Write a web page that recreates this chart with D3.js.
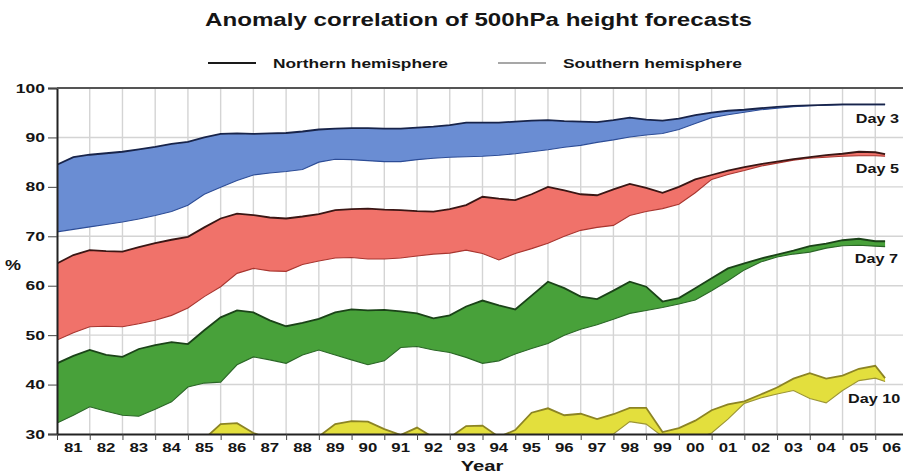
<!DOCTYPE html>
<html>
<head>
<meta charset="utf-8">
<script src="https://cdn.jsdelivr.net/npm/d3@7"></script>
<style>
  body { margin: 0; background: #fff; }
  text { font-family: "Liberation Sans", Arial, sans-serif; font-weight: bold; fill: #151515; }
</style>
</head>
<body>
<svg id="chart"></svg>
<script>
// sample times (every half year)
let years = [
  1981,1981.5,1982,1982.5,1983,1983.5,1984,1984.5,1985,1985.5,
  1986,1986.5,1987,1987.5,1988,1988.5,1989,1989.5,1990,1990.5,
  1991,1991.5,1992,1992.5,1993,1993.5,1994,1994.5,1995,1995.5,
  1996,1996.5,1997,1997.5,1998,1998.5,1999,1999.5,2000,2000.5,
  2001,2001.5,2002,2002.5,2003,2003.5,2004,2004.5,2005,2005.5,
  2006,2006.3
];

// Day 3
let day3N = [
  84.5,86.0,86.5,86.8,87.1,87.6,88.1,88.7,89.1,90.0,
  90.7,90.8,90.7,90.8,90.9,91.2,91.6,91.8,91.9,91.9,
  91.8,91.8,92.0,92.2,92.5,93.0,93.0,93.0,93.2,93.4,
  93.5,93.3,93.2,93.1,93.5,94.0,93.6,93.4,93.8,94.5,
  95.0,95.4,95.6,95.9,96.2,96.4,96.5,96.6,96.7,96.7,
  96.7,96.7
];
let day3S = [
  70.9,71.4,71.9,72.4,72.9,73.5,74.2,75.0,76.3,78.5,
  79.9,81.3,82.4,82.8,83.1,83.5,85.0,85.6,85.5,85.3,
  85.1,85.1,85.5,85.8,86.0,86.1,86.2,86.4,86.7,87.1,
  87.5,88.0,88.4,89.0,89.5,90.1,90.5,90.8,91.6,92.8,
  94.0,94.6,95.1,95.6,95.9,96.2,96.4,96.5,96.6,96.6,
  96.6,96.6
];

// Day 5
let day5N = [
  64.5,66.2,67.2,67.0,66.9,67.8,68.6,69.3,69.9,71.8,
  73.6,74.6,74.3,73.8,73.6,74.0,74.5,75.3,75.5,75.6,
  75.4,75.3,75.1,75.0,75.5,76.3,78.0,77.6,77.3,78.5,
  80.0,79.3,78.5,78.3,79.5,80.6,79.8,78.8,80.0,81.5,
  82.4,83.3,84.0,84.6,85.1,85.6,86.0,86.4,86.7,87.1,
  87.0,86.6
];
let day5S = [
  49.0,50.5,51.7,51.8,51.7,52.3,53.0,54.0,55.5,57.8,
  59.8,62.5,63.5,63.0,62.9,64.3,65.0,65.6,65.7,65.4,
  65.4,65.6,66.0,66.4,66.6,67.2,66.5,65.2,66.5,67.5,
  68.6,70.0,71.2,71.8,72.2,74.2,75.0,75.6,76.5,78.8,
  81.5,82.5,83.3,84.2,84.8,85.4,85.8,86.0,86.2,86.3,
  86.3,86.2
];

// Day 7
let day7N = [
  44.3,45.8,47.0,46.0,45.6,47.2,48.0,48.6,48.2,51.0,
  53.6,55.0,54.6,53.0,51.8,52.5,53.3,54.6,55.2,55.0,
  55.1,54.8,54.4,53.4,54.0,55.8,57.0,56.0,55.2,58.0,
  60.8,59.5,57.8,57.3,59.0,60.8,59.8,56.8,57.5,59.5,
  61.5,63.5,64.5,65.5,66.3,67.1,68.0,68.5,69.2,69.5,
  69.0,69.0
];
let day7S = [
  32.2,33.8,35.5,34.6,33.8,33.6,35.0,36.5,39.5,40.3,
  40.5,44.0,45.6,45.0,44.3,46.0,47.0,46.0,45.0,44.0,
  44.8,47.5,47.7,47.0,46.5,45.5,44.3,44.8,46.2,47.3,
  48.3,50.0,51.2,52.1,53.2,54.4,55.0,55.6,56.3,57.1,
  59.0,61.0,63.2,64.8,65.8,66.4,66.8,67.6,68.1,68.2,
  68.0,67.9
];

// Day 10 (values under 30 fall below the axis)
let day10N = [
  27.0,27.5,28.0,27.8,27.5,28.0,28.5,29.0,28.6,29.0,
  32.0,32.2,30.2,29.0,28.8,29.2,29.5,32.0,32.6,32.5,
  31.0,29.8,31.3,29.3,29.3,31.6,31.7,29.4,30.8,34.3,
  35.2,33.8,34.1,33.0,34.0,35.3,35.3,30.4,31.2,32.7,
  34.8,36.0,36.6,38.0,39.4,41.2,42.3,41.2,41.8,43.2,
  43.8,41.3
];
let day10S = [
  20.0,21.0,22.0,21.5,21.0,22.0,22.5,23.0,24.0,25.0,
  26.0,27.0,26.5,26.0,26.5,27.0,27.5,28.0,28.5,28.5,
  28.0,28.0,28.5,28.0,28.0,28.5,28.5,28.0,28.5,29.0,
  29.0,29.5,29.5,29.5,30.0,32.5,32.0,29.5,28.5,29.0,
  30.2,33.0,36.2,37.3,38.1,38.8,37.2,36.3,38.8,40.8,
  41.3,40.6
];

let yTicks = [30, 40, 50, 60, 70, 80, 90, 100];
let yearTicks = [1981,1982,1983,1984,1985,1986,1987,1988,1989,1990,1991,1992,1993,
  1994,1995,1996,1997,1998,1999,2000,2001,2002,2003,2004,2005,2006,2007];
let yearLabels = ['81','82','83','84','85','86','87','88','89','90','91','92','93',
  '94','95','96','97','98','99','00','01','02','03','04','05','06'];

let w = 903;
let h = 475;
let padLeft = 57, padTop = 88, plotBottom = 434, plotRight = 908;

let svg = d3.select('#chart').attr('width', w).attr('height', h);

let xScale = d3.scaleLinear().domain([1981, 2007]).range([padLeft, plotRight]);
let yScale = d3.scaleLinear().domain([30, 100]).range([plotBottom, padTop]);

// the original picture is stretched sideways, so text gets a horizontal scale
let label = (txt, x, y, size, anchor, stretch) => {
  return svg.append('text')
    .attr('transform', 'translate(' + x + ',' + y + ') scale(' + stretch + ',1)')
    .attr('text-anchor', anchor)
    .attr('font-size', size)
    .text(txt);
};

svg.append('defs').append('clipPath').attr('id', 'plot')
  .append('rect')
  .attr('x', padLeft).attr('y', padTop)
  .attr('width', plotRight - padLeft).attr('height', plotBottom - padTop);

// grid
let grid = svg.append('g');
grid.selectAll('line.v')
  .data(yearTicks.slice(1))
  .enter().append('line')
  .attr('x1', d => xScale(d)).attr('x2', d => xScale(d))
  .attr('y1', padTop).attr('y2', plotBottom)
  .attr('stroke', '#d4d4d4').attr('stroke-width', 1.4);
grid.selectAll('line.h')
  .data(yTicks.slice(1, -1))
  .enter().append('line')
  .attr('x1', padLeft).attr('x2', w)
  .attr('y1', d => yScale(d)).attr('y2', d => yScale(d))
  .attr('stroke', '#d4d4d4').attr('stroke-width', 1.4);

// bands
let bands = [
  { n: day3N, s: day3S, fill: '#6a8dd3', nLine: '#18244a', sLine: '#2c4c96' },
  { n: day5N, s: day5S, fill: '#f0726a', nLine: '#3a1614', sLine: '#a8352f' },
  { n: day7N, s: day7S, fill: '#48a13a', nLine: '#1b4318', sLine: '#2a6626' },
  { n: day10N, s: day10S, fill: '#e3df3d', nLine: '#8c8424', sLine: '#9c9534' }
];

let g = svg.append('g').attr('clip-path', 'url(#plot)');
bands.forEach(b => {
  let area = d3.area()
    .x((d, i) => xScale(years[i]))
    .y0((d, i) => yScale(b.s[i]))
    .y1((d, i) => yScale(b.n[i]));
  let line = d3.line().x((d, i) => xScale(years[i])).y(d => yScale(d));
  g.append('path').datum(b.n).attr('d', area).attr('fill', b.fill);
  g.append('path').datum(b.s).attr('d', line)
    .attr('fill', 'none').attr('stroke', b.sLine).attr('stroke-width', 1.1);
  g.append('path').datum(b.n).attr('d', line)
    .attr('fill', 'none').attr('stroke', b.nLine).attr('stroke-width', 1.8);
});

// axes
let yAxis = d3.axisLeft(yScale).tickValues(yTicks).tickSize(9).tickFormat('');
svg.append('g').attr('transform', 'translate(' + padLeft + ',0)').call(yAxis)
  .call(a => a.select('.domain').attr('stroke', '#222').attr('stroke-width', 2))
  .call(a => a.selectAll('.tick line').attr('stroke', '#444'));

let xAxis = d3.axisBottom(xScale).tickValues(yearTicks).tickSize(6).tickSizeOuter(0).tickFormat('');
svg.append('g').attr('transform', 'translate(0,' + plotBottom + ')').call(xAxis)
  .call(a => a.select('.domain').attr('stroke', '#222').attr('stroke-width', 2))
  .call(a => a.selectAll('.tick line').attr('stroke', '#444'));

svg.append('line')
  .attr('x1', padLeft).attr('x2', w).attr('y1', padTop).attr('y2', padTop)
  .attr('stroke', '#555').attr('stroke-width', 2);

yTicks.forEach(t => label(t, 45, yScale(t) + 4.5, 12.5, 'end', 1.4));
yearLabels.forEach((t, i) => label(t, xScale(yearTicks[i] + 0.5), 452, 12, 'middle', 1.4));

label('Year', 482, 471, 15, 'middle', 1.35);
label('%', 13, 270, 15, 'middle', 1.2);

label('Day 3', 899, 123, 13.5, 'end', 1.2);
label('Day 5', 899, 173, 13.5, 'end', 1.2);
label('Day 7', 898, 263, 13.5, 'end', 1.2);
label('Day 10', 848, 403, 13.5, 'start', 1.2);

// title and legend
svg.append('text')
  .attr('x', 205).attr('y', 26)
  .attr('font-size', 18)
  .attr('textLength', 547).attr('lengthAdjust', 'spacingAndGlyphs')
  .text('Anomaly correlation of 500hPa height forecasts');

let legend = [
  { name: 'Northern hemisphere', x: 208, color: '#1a1a1a', width: 2, tl: 175 },
  { name: 'Southern hemisphere', x: 498, color: '#8a8a8a', width: 1.6, tl: 179 }
];
legend.forEach(l => {
  svg.append('line')
    .attr('x1', l.x).attr('x2', l.x + 48).attr('y1', 63).attr('y2', 63)
    .attr('stroke', l.color).attr('stroke-width', l.width);
  svg.append('text')
    .attr('x', l.x + 65).attr('y', 67.5)
    .attr('font-size', 13)
    .attr('textLength', l.tl).attr('lengthAdjust', 'spacingAndGlyphs')
    .text(l.name);
});
</script>
</body>
</html>
